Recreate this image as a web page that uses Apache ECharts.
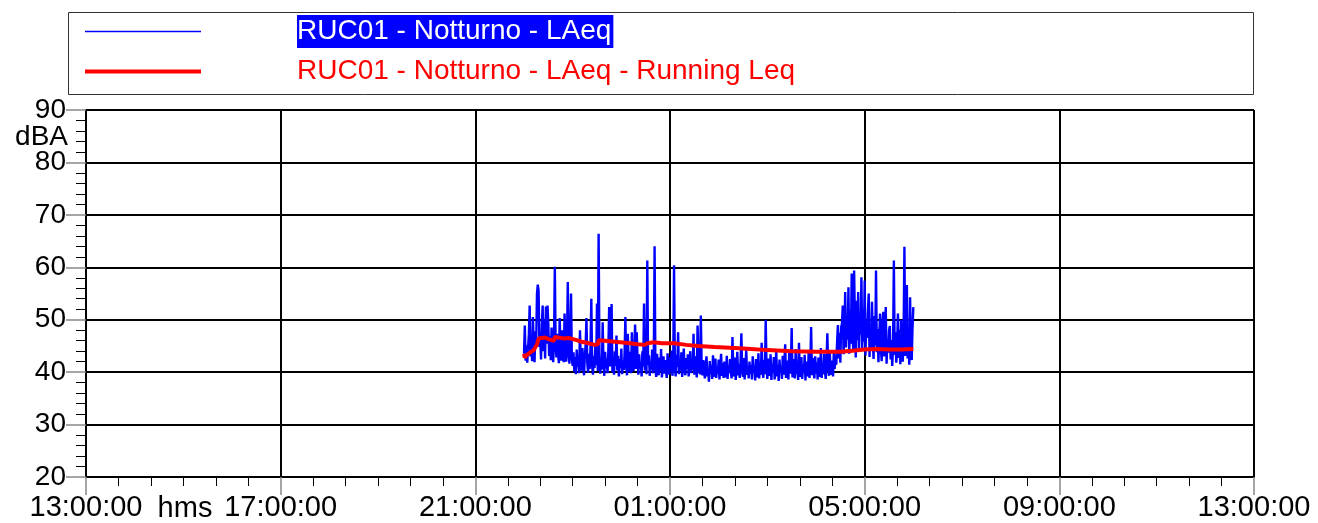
<!DOCTYPE html>
<html>
<head>
<meta charset="utf-8">
<script src="https://cdn.jsdelivr.net/npm/echarts@6/dist/echarts.min.js"></script>
<style>
html,body{margin:0;padding:0;background:#fff;}
#chart{width:1318px;height:523px;}
</style>
</head>
<body>
<div id="chart"></div>
<script>
// ---- data ----
const seriesNames = ['RUC01 - Notturno - LAeq', 'RUC01 - Notturno - LAeq - Running Leq'];
const xTickLabels = ['13:00:00', '17:00:00', '21:00:00', '01:00:00', '05:00:00', '09:00:00', '13:00:00'];
const yTickValues = [20, 30, 40, 50, 60, 70, 80, 90];
const blueStartMinute = 540;   // 22:00:00, minutes after 13:00:00
const blueStepMinutes = 1;
const blueLAeq = [
43.5,48.9,42.2,45.1,41.8,44.6,47.2,52.7,43.0,46.5,42.1,50.5,44.2,41.9,47.8,45.0,55.0,56.7,55.5,44.8,
46.3,42.4,49.1,52.7,44.0,50.2,42.6,52.5,45.4,52.7,49.0,43.1,46.8,42.3,48.5,44.2,41.9,46.0,60.1,45.2,
42.8,47.3,43.5,41.7,50.3,44.9,42.2,48.0,43.6,41.9,51.2,44.5,42.0,46.2,57.2,43.4,41.6,47.0,55.0,42.5,
41.2,43.8,40.1,42.9,39.6,44.3,41.0,43.2,39.8,48.0,42.1,40.3,44.6,41.5,39.4,43.0,45.2,50.3,41.8,39.9,
43.5,40.6,44.8,54.0,41.2,39.5,43.1,40.8,45.5,41.3,53.1,40.2,66.4,43.6,39.7,42.4,40.5,49.5,41.8,39.3,
43.9,40.7,42.6,39.8,44.2,52.4,41.1,43.5,53.0,40.0,42.8,39.5,44.0,41.2,47.0,40.3,43.1,39.2,42.5,40.8,
44.5,39.6,42.0,40.4,43.7,50.5,41.0,39.4,47.3,42.2,40.1,43.9,39.8,47.6,41.5,40.2,44.1,49.1,40.6,47.6,
42.3,39.5,43.4,40.7,41.9,39.2,44.0,41.1,53.1,40.3,42.7,39.6,61.3,41.4,43.2,39.3,42.0,40.5,44.3,39.8,
42.6,64.0,40.9,39.1,43.5,41.0,39.4,42.8,40.2,44.4,39.0,41.6,43.0,39.7,42.3,40.4,38.9,43.6,41.2,39.5,
42.9,40.0,44.1,39.3,41.7,60.4,40.8,39.2,43.3,41.0,47.6,39.6,42.4,40.3,43.8,39.1,41.9,44.5,40.1,39.4,
42.7,40.6,43.4,39.2,41.5,44.0,39.8,42.1,40.4,47.3,39.5,43.0,41.2,39.0,48.9,42.5,40.2,39.6,50.8,41.4,
39.4,42.3,40.1,38.8,41.6,43.0,39.2,40.7,38.2,42.1,39.6,41.3,38.7,43.2,40.0,39.1,42.6,38.9,41.0,39.7,
42.4,38.6,40.8,43.5,39.3,41.7,38.9,42.0,40.3,39.0,43.1,38.7,41.2,39.8,42.5,40.1,38.8,46.7,41.0,39.2,
42.8,38.5,40.6,43.9,39.4,41.5,38.9,42.2,47.4,40.0,39.1,42.7,38.6,41.3,44.2,39.5,40.9,38.8,42.0,39.7,
41.4,38.6,43.0,39.9,41.1,38.4,42.5,40.2,39.0,43.6,38.8,41.8,39.5,45.6,40.4,38.9,42.3,39.6,50.0,41.0,
38.7,42.6,40.0,39.3,43.4,38.5,41.6,39.8,42.9,38.6,40.7,44.0,39.2,41.4,38.3,42.4,39.9,40.6,38.7,43.1,
39.5,41.8,45.3,38.9,42.2,40.1,38.6,43.7,39.7,41.2,48.4,39.0,42.5,40.3,38.8,44.4,39.6,41.7,38.5,45.6,
40.2,39.1,42.9,38.7,41.5,39.8,43.3,38.4,42.0,40.5,39.2,44.1,38.9,41.6,48.6,39.4,42.7,40.0,38.8,43.0,
39.7,41.9,38.6,42.8,40.4,39.1,44.6,38.9,41.3,39.6,43.5,40.2,38.7,42.4,47.4,41.1,39.3,43.8,40.0,39.5,
42.2,39.2,44.0,40.6,43.1,41.4,45.8,49.0,42.6,47.5,41.8,48.6,49.2,52.7,43.4,48.0,55.3,44.7,50.6,46.2,
56.2,43.5,51.8,45.4,58.8,47.0,44.1,59.4,49.5,42.8,53.6,46.1,55.3,43.9,50.4,47.2,58.1,44.5,52.0,45.8,
57.5,43.2,49.8,46.5,51.6,55.0,42.9,48.3,44.6,53.4,46.0,42.5,50.7,45.1,59.4,43.8,48.2,41.9,47.0,51.2,
44.3,42.1,49.4,51.5,43.0,46.8,52.4,41.6,45.5,43.7,47.9,48.8,42.4,46.1,41.2,44.9,61.3,43.3,47.6,41.8,
45.2,51.2,42.7,48.1,41.5,50.0,44.4,42.0,47.3,63.9,43.1,49.2,56.6,42.6,46.7,41.4,54.3,44.8,42.3,48.5,52.4
];
// running Leq: minutes after 22:00:00 and values
const redMinutes = [0,1,3,5,8,12,14,16,18,22,26,30,34,37,38,42,46,50,54,58,65,71,80,87,91,92,100,112,125,140,149,152,160,170,185,200,215,235,260,280,300,330,360,390,405,420,435,450,465,480];
const redLeq =     [43.5,42.8,43.2,43.5,43.8,44.2,44.5,45.3,46.4,46.5,46.6,46.3,46.1,46.0,46.7,46.6,46.5,46.4,46.5,46.4,46.1,45.8,45.5,45.2,45.3,46.1,46.0,45.8,45.6,45.3,45.2,45.5,45.7,45.5,45.5,45.2,45.0,44.8,44.6,44.4,44.2,44.0,43.9,43.9,44.1,44.3,44.4,44.3,44.3,44.4];

// ---- build ----
const blueData = blueLAeq.map((v, i) => [blueStartMinute + i * blueStepMinutes, v]);
const redData = redMinutes.map((m, i) => [blueStartMinute + m, redLeq[i]]);

const FONT = 'Liberation Sans, Arial, sans-serif';
const chart = echarts.init(document.getElementById('chart'), null, {renderer: 'canvas'});
chart.setOption({
  animation: false,
  backgroundColor: '#ffffff',
  grid: {left: 86, right: 64, top: 110, bottom: 46, containLabel: false},
  legend: {
    orient: 'vertical',
    left: 83,
    top: 15,
    padding: 0,
    itemWidth: 116,
    itemHeight: 14,
    itemGap: 7,
    selectedMode: false,
    itemStyle: {color: 'rgba(0,0,0,0)', borderColor: 'rgba(0,0,0,0)', borderWidth: 0, opacity: 0},
    data: [
      {name: seriesNames[0], lineStyle: {width: 1.5, color: '#0000ff'}},
      {name: seriesNames[1], lineStyle: {width: 4, color: '#ff0000'}}
    ],
    formatter: function (name) {
      return name === seriesNames[0] ? '{gap|}{sel|' + name + '}' : '{gap|}{n|' + name + '}';
    },
    textStyle: {
      fontFamily: FONT,
      fontSize: 28,
      rich: {
        gap: {width: 91, fontSize: 28},
        sel: {color: '#ffffff', backgroundColor: '#0000ff', fontSize: 28, fontFamily: FONT, height: 33, lineHeight: 33, padding: [0, 2, 0, 0]},
        n: {color: '#ff0000', fontSize: 28, fontFamily: FONT, height: 33, lineHeight: 33}
      }
    }
  },
  graphic: [
    {type: 'rect', shape: {x: 68.5, y: 12.5, width: 1185, height: 82}, style: {fill: 'none', stroke: '#333', lineWidth: 1}, z: -1},
    {type: 'text', x: 68, y: 137, style: {text: 'dBA', font: '28px ' + FONT, fill: '#000', align: 'right', verticalAlign: 'middle'}},
    {type: 'text', x: 185, y: 509, style: {text: 'hms', font: '29px ' + FONT, fill: '#000', align: 'center', verticalAlign: 'middle'}}
  ],
  xAxis: {
    type: 'value',
    min: 0,
    max: 1440,
    interval: 240,
    axisLine: {show: true, lineStyle: {color: '#000', width: 2}},
    axisTick: {show: true, length: 18, lineStyle: {color: '#888', width: 1.5}},
    minorTick: {show: true, splitNumber: 6, length: 9, lineStyle: {color: '#000', width: 1}},
    splitLine: {show: true, lineStyle: {color: '#000', width: 2}},
    axisLabel: {
      margin: 16,
      color: '#000',
      fontFamily: FONT,
      fontSize: 29,
      formatter: function (v) { return xTickLabels[Math.round(v / 240)]; }
    }
  },
  yAxis: {
    type: 'value',
    min: yTickValues[0],
    max: yTickValues[yTickValues.length - 1],
    interval: 10,
    axisLine: {show: true, lineStyle: {color: '#000', width: 2}},
    axisTick: {show: true, length: 20, lineStyle: {color: '#888', width: 1.5}},
    minorTick: {show: true, splitNumber: 5, length: 10, lineStyle: {color: '#000', width: 1}},
    splitLine: {show: true, lineStyle: {color: '#000', width: 2}},
    axisLabel: {margin: 20, color: '#000', fontFamily: FONT, fontSize: 28}
  },
  series: [
    {
      name: seriesNames[0],
      type: 'line',
      data: blueData,
      symbol: 'none',
      showSymbol: false,
      lineStyle: {color: '#0000ff', width: 2.4},
      itemStyle: {color: '#0000ff'},
      z: 3
    },
    {
      name: seriesNames[1],
      type: 'line',
      data: redData,
      symbol: 'none',
      showSymbol: false,
      lineStyle: {color: '#ff0000', width: 4},
      itemStyle: {color: '#ff0000'},
      z: 4
    }
  ]
});
</script>
</body>
</html>
